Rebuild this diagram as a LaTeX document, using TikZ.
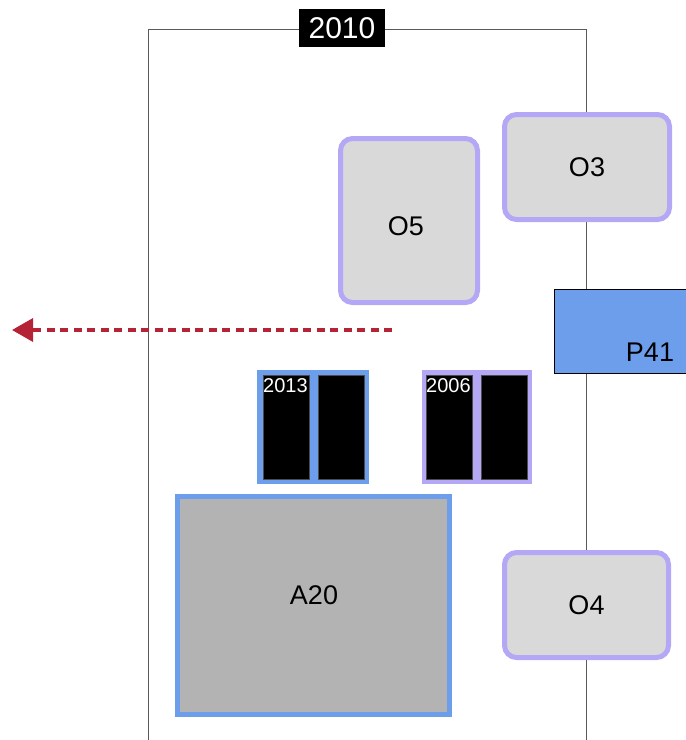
\documentclass[tikz,border=0pt]{standalone}
\usepackage{fontspec}
\setmainfont{Liberation Sans}
\usetikzlibrary{arrows.meta}
\definecolor{lav}{RGB}{180,167,246}
\definecolor{bluec}{RGB}{109,158,235}
\definecolor{lgray}{RGB}{217,217,217}
\definecolor{mgray}{RGB}{179,179,179}
\definecolor{darr}{RGB}{181,35,55}
\definecolor{frame}{RGB}{90,90,90}
\tikzset{
  obox/.style={draw=lav, line width=5pt, fill=lgray, rounded corners=12pt, inner sep=0pt, font=\fontsize{27}{27}\selectfont},
  abox/.style={draw=bluec, line width=5pt, fill=mgray, inner sep=0pt},
  pbox/.style={draw=black, line width=0.8pt, fill=bluec, inner sep=0pt},
  grp/.style={inner sep=0pt, draw=none},
  blk/.style={fill=black, draw=black!70, line width=0.6pt, inner sep=0pt, minimum width=46pt, minimum height=104pt, anchor=north west},
  yr/.style={text=white, font=\fontsize{20}{20}\selectfont, inner sep=0pt, anchor=north west},
  lbl/.style={font=\fontsize{27}{27}\selectfont, inner sep=0pt},
}
\begin{document}
\begin{tikzpicture}[x=1pt,y=-1pt]
\useasboundingbox (0,0) rectangle (686,740);
% frame
\coordinate (fbl) at (148,740);
\coordinate (ftl) at (148,29);
\coordinate (ftr) at (586,29);
\coordinate (fbr) at (586,740);
\draw[frame, line width=1pt] (fbl) -- (ftl) -- (ftr) -- (fbr);
\node[fill=black, text=white, minimum width=86pt, minimum height=38pt, inner sep=0pt, font=\fontsize{30}{30}\selectfont] (title) at (342,28) {2010};
% O boxes
\node[obox, minimum width=165pt, minimum height=105pt] (O3) at (587,167) {O3};
\node[obox, minimum width=137pt, minimum height=164pt] (O5) at (409,220.5) {};
\node[lbl] (O5t) at (406,226) {O5};
\node[obox, minimum width=164pt, minimum height=105pt] (O4) at (586.5,605) {O4};
% P41
\node[pbox, minimum width=140pt, minimum height=84pt, anchor=north west] (P41) at (554,289) {};
\node[lbl] (P41t) at (650,352) {P41};
% arrow
\coordinate (as) at (392,330);
\coordinate (ae) at (12,330);
\draw[darr, line width=3.4pt, dash pattern=on 8pt off 5.5pt, -{Triangle[length=21pt,width=23pt]}] (as) -- (ae);
% 2013 group
\node[grp, fill=bluec, minimum width=112pt, minimum height=114pt, anchor=north west] (g13) at (257,370) {};
\node[blk] (b13a) at (263,375) {};
\node[blk] (b13b) at (318,375) {};
\node[yr] (t13) at (263,378) {2013};
% 2006 group
\node[grp, fill=lav, minimum width=110pt, minimum height=114pt, anchor=north west] (g06) at (422,370) {};
\node[blk] (b06a) at (426,375) {};
\node[blk] (b06b) at (481,375) {};
\node[yr] (t06) at (426,378) {2006};
% A20
\node[abox, minimum width=272pt, minimum height=218pt] (A20) at (313.5,605.5) {};
\node[lbl] (A20t) at (314,595) {A20};
\end{tikzpicture}
\end{document}
